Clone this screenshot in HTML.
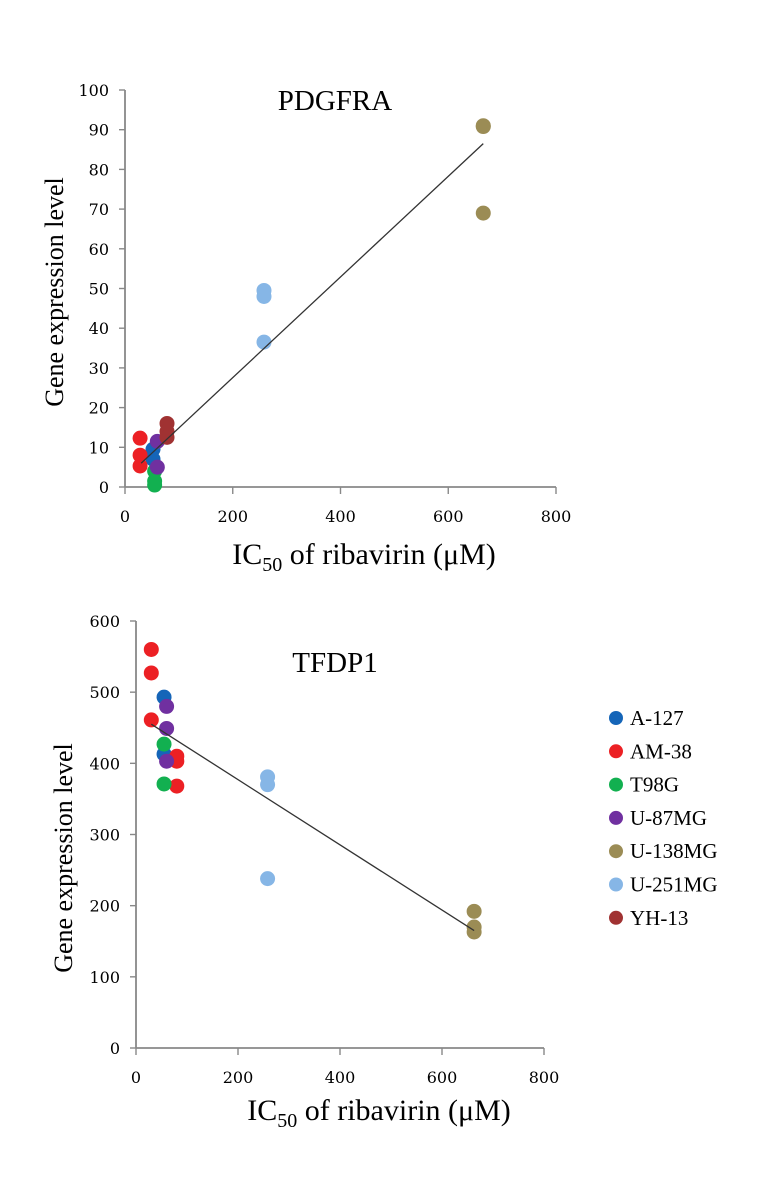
<!DOCTYPE html>
<html><head><meta charset="utf-8"><style>
body{margin:0;background:#fff;}
svg{display:block;font-family:"Liberation Serif",serif;}
</style></head><body>
<svg id="chart" width="772" height="1185" viewBox="0 0 772 1185" xmlns="http://www.w3.org/2000/svg"></svg>
<script>
const seriesNames = ["A-127","AM-38","T98G","U-87MG","U-138MG","U-251MG","YH-13"];
const seriesColors = ["#1565b8","#ec2024","#12b050","#7030a0","#9b8c55","#86b6e6","#a03232"];
// PDGFRA: [ic50, value]
const pdgfraA127 = [[52,9.5],[52,7]];
const pdgfraAM38 = [[28,12.3],[28,8],[28,5.3]];
const pdgfraT98G = [[55,4],[55,1.5],[55,0.5]];
const pdgfraU87 = [[60,11.5],[60,5]];
const pdgfraU138 = [[665,91],[665,90.8],[665,69]];
const pdgfraU251 = [[258,49.5],[258,48],[258,36.5]];
const pdgfraYH13 = [[78,16],[78,14],[78,12.5]];
const pdgfraFit = [[30,6],[665,86.5]];
const pdgfraYTicks = [0,10,20,30,40,50,60,70,80,90,100];
// TFDP1
const tfdpA127 = [[55,493],[55,413]];
const tfdpAM38 = [[30,560],[30,527],[30,461],[80,410],[80,403],[80,368]];
const tfdpT98G = [[55,427],[55,371]];
const tfdpU87 = [[60,480],[60,449],[60,403]];
const tfdpU138 = [[663,192],[663,170],[663,163]];
const tfdpU251 = [[258,381],[258,370],[258,238]];
const tfdpYH13 = [];
const tfdpFit = [[30,455],[663,165]];
const tfdpYTicks = [0,100,200,300,400,500,600];
const xTicks = [0,200,400,600,800];

const svg = document.getElementById('chart');
const NS = "http://www.w3.org/2000/svg";
function mk(tag, attrs, parent){const e=document.createElementNS(NS,tag);for(const k in attrs)e.setAttribute(k,attrs[k]);(parent||svg).appendChild(e);return e;}

function drawChart(cfg){
  const g = mk('g',{});
  
  
  const xs = v => cfg.x0 + (v/800)*(cfg.x1-cfg.x0);
  const ys = v => cfg.y0 - (v/cfg.ymax)*(cfg.y0-cfg.y1);
  const ax = mk('line',{x1:cfg.x0,y1:cfg.y1,x2:cfg.x0,y2:cfg.y0,stroke:'#888','stroke-width':1.8},g);
   
  const axx = mk('line',{x1:cfg.x0,y1:cfg.y0,x2:cfg.x1,y2:cfg.y0,stroke:'#888','stroke-width':1.8},g);
   
  cfg.yTicks.forEach(t=>{
    mk('line',{x1:cfg.x0-6,y1:ys(t),x2:cfg.x0,y2:ys(t),stroke:'#888','stroke-width':1.4},g);
    const tx = mk('text',{x:cfg.x0-16,y:ys(t)+6,'text-anchor':'end','font-size':16,'font-family':'"DejaVu Serif",serif'},g);
    tx.textContent=t;
     
  });
  xTicks.forEach(t=>{
    mk('line',{x1:xs(t),y1:cfg.y0,x2:xs(t),y2:cfg.y0+7,stroke:'#888','stroke-width':1.4},g);
    const tx = mk('text',{x:xs(t),y:cfg.y0+35,'text-anchor':'middle','font-size':16,'font-family':'"DejaVu Serif",serif'},g);
    tx.textContent=t;
     
  });
  cfg.series.forEach((pts,i)=>{
    pts.forEach(p=>{
      const c = mk('circle',{cx:xs(p[0]),cy:ys(p[1]),r:7.5,fill:seriesColors[i]},g);
      
      
    });
  });
  const fl = mk('line',{x1:xs(cfg.fit[0][0]),y1:ys(cfg.fit[0][1]),x2:xs(cfg.fit[1][0]),y2:ys(cfg.fit[1][1]),stroke:'#333','stroke-width':1.3},g);
   
  const ti = mk('text',{x:cfg.titleX,y:cfg.titleY,'text-anchor':'middle','font-size':29},g);
  ti.textContent = cfg.title;
   
  const yt = mk('text',{x:0,y:0,'text-anchor':'middle','font-size':26,transform:`translate(${cfg.yTitleX},${cfg.yTitleY}) rotate(-90)`},g);
  yt.textContent='Gene expression level';
   
  const xt = mk('text',{x:cfg.xTitleX,y:cfg.xTitleY,'text-anchor':'middle','font-size':30},g);
  xt.innerHTML = 'IC<tspan font-size="20" dy="7">50</tspan><tspan dy="-7"> of ribavirin (μM)</tspan>';
   
}

drawChart({name:'pdgfra-chart',x0:125,x1:556,y0:487,y1:90,ymax:100,yTicks:pdgfraYTicks,
  series:[pdgfraA127,pdgfraAM38,pdgfraT98G,pdgfraU87,pdgfraU138,pdgfraU251,pdgfraYH13],
  fit:pdgfraFit,title:'PDGFRA',titleX:335,titleY:110,yTitleX:63,yTitleY:292,xTitleX:364,xTitleY:564});
drawChart({name:'tfdp1-chart',x0:136,x1:544,y0:1048,y1:621,ymax:600,yTicks:tfdpYTicks,
  series:[tfdpA127,tfdpAM38,tfdpT98G,tfdpU87,tfdpU138,tfdpU251,tfdpYH13],
  fit:tfdpFit,title:'TFDP1',titleX:335,titleY:672,yTitleX:72,yTitleY:858,xTitleX:379,xTitleY:1120});

const lg = mk('g',{});


seriesNames.forEach((n,i)=>{
  const y = 718 + i*33.3;
  const c = mk('circle',{cx:616,cy:y,r:7,fill:seriesColors[i]},lg);
  
  
  const t = mk('text',{x:630,y:y+7,'font-size':21},lg);
  t.textContent=n;
  
  
});
</script>
</body></html>
